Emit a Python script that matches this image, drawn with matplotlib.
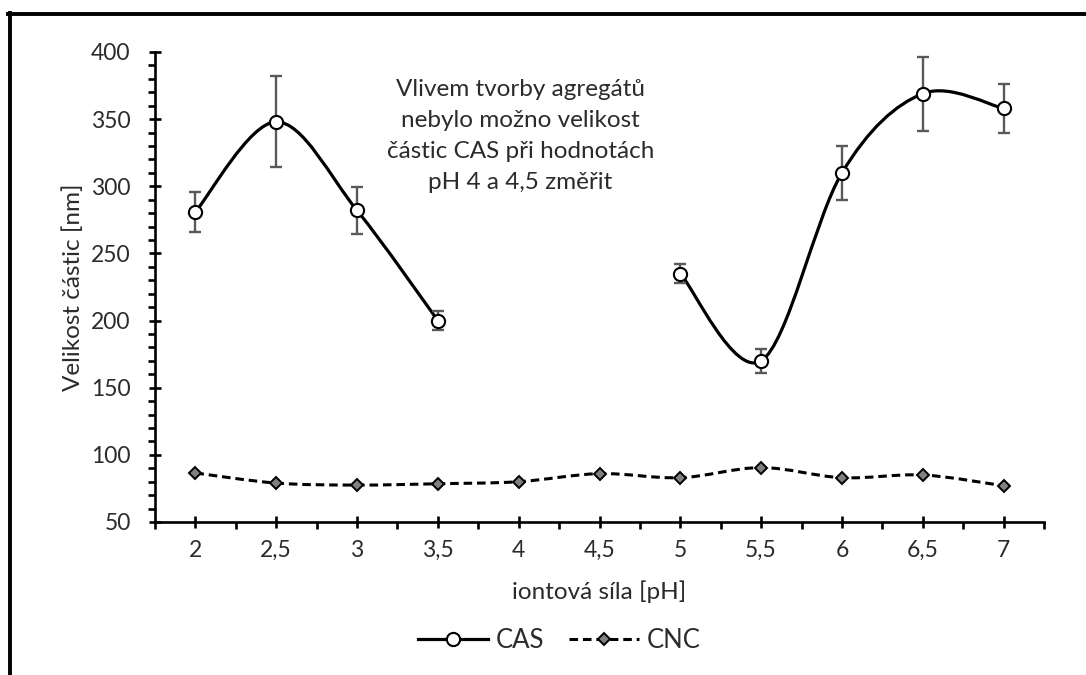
import numpy as np
import matplotlib
matplotlib.use('Agg')
import matplotlib.pyplot as plt
from matplotlib.path import Path
from matplotlib.patches import PathPatch
from matplotlib.lines import Line2D
from matplotlib.ticker import FixedLocator, MultipleLocator

# ---- data ----
categories = ['2', '2,5', '3', '3,5', '4', '4,5', '5', '5,5', '6', '6,5', '7']
cas_values = [281, 348, 282, 200, np.nan, np.nan, 235, 170, 310, 369, 358]
cas_errors = [15, 34, 17.5, 7, np.nan, np.nan, 7, 9, 20, 27.5, 18]
cnc_values = [86.5, 79, 77.5, 78.5, 80, 86, 83, 90.5, 83, 85, 77]

annotation = "Vlivem tvorby agregátů\nnebylo možno velikost\nčástic CAS při hodnotách\npH 4 a 4,5 změřit"
ylabel = "Velikost částic [nm]"
xlabel = "iontová síla [pH]"

FONT = 'Lato'
TXT = '#2b2b2b'
plt.rcParams['font.family'] = [FONT, 'DejaVu Sans']


def smooth_path(xs, ys):
    """Excel-like smoothed line: cubic Bezier through points (Catmull-Rom)."""
    n = len(xs)
    verts = [(xs[0], ys[0])]
    codes = [Path.MOVETO]
    for i in range(n - 1):
        im1 = max(i - 1, 0)
        ip2 = min(i + 2, n - 1)
        c1 = (xs[i] + (xs[i + 1] - xs[im1]) / 6.0, ys[i] + (ys[i + 1] - ys[im1]) / 6.0)
        c2 = (xs[i + 1] - (xs[ip2] - xs[i]) / 6.0, ys[i + 1] - (ys[ip2] - ys[i]) / 6.0)
        verts += [c1, c2, (xs[i + 1], ys[i + 1])]
        codes += [Path.CURVE4] * 3
    return Path(verts, codes)


def segments(vals):
    segs, cur = [], []
    for i, v in enumerate(vals):
        if np.isnan(v):
            if cur:
                segs.append(cur)
            cur = []
        else:
            cur.append(i)
    if cur:
        segs.append(cur)
    return segs


fig = plt.figure(figsize=(10.86, 6.75), dpi=100)
ax = fig.add_axes([155 / 1086, 1 - 522 / 675, (1044 - 155) / 1086, (522 - 52) / 675])

x = np.arange(len(categories))
cas = np.array(cas_values, dtype=float)
cas_err = np.array(cas_errors, dtype=float)
cnc = np.array(cnc_values, dtype=float)

# CNC dashed smoothed line
p = smooth_path(x.astype(float), cnc)
ax.add_patch(PathPatch(p, fill=False, edgecolor='black', lw=2.2,
                       linestyle=(0, (2.8, 1.6)), zorder=3))
ax.plot(x, cnc, linestyle='none', marker='D', ms=6.2, mfc='#808080',
        mec='black', mew=1.4, zorder=5)

# CAS smoothed line segments
for seg in segments(cas):
    idx = np.array(seg)
    p = smooth_path(idx.astype(float), cas[idx])
    ax.add_patch(PathPatch(p, fill=False, edgecolor='black', lw=2.3,
                           capstyle='round', zorder=3))

ax.errorbar(x, cas, yerr=cas_err, fmt='none', ecolor='#595959',
            elinewidth=1.7, capsize=4.5, capthick=1.7, zorder=4)
ax.plot(x, cas, linestyle='none', marker='o', ms=9.5, mfc='white',
        mec='black', mew=1.5, zorder=6)

# axes styling
ax.set_xlim(-0.5, len(categories) - 0.5)
ax.set_ylim(50, 400)
for s in ['top', 'right']:
    ax.spines[s].set_visible(False)
for s in ['left', 'bottom']:
    ax.spines[s].set_linewidth(1.9)
    ax.spines[s].set_color('black')

ax.xaxis.set_major_locator(FixedLocator(x))
ax.set_xticklabels(categories)
ax.xaxis.set_minor_locator(FixedLocator(np.arange(-0.5, len(categories), 1.0)))
ax.yaxis.set_major_locator(MultipleLocator(50))
ax.yaxis.set_minor_locator(MultipleLocator(10))

ax.tick_params(axis='x', which='major', direction='inout', length=8, width=1.9,
               pad=9, labelsize=16.5, labelcolor=TXT, color='black')
ax.tick_params(axis='x', which='minor', direction='out', length=5, width=1.9,
               color='black')
ax.tick_params(axis='y', which='major', direction='inout', length=9, width=1.9,
               pad=13, labelsize=16.5, labelcolor=TXT, color='black')
ax.tick_params(axis='y', which='minor', direction='out', length=5, width=1.9,
               color='black')

ax.set_ylabel(ylabel, fontsize=17.5, color=TXT, labelpad=5)
ax.set_xlabel(xlabel, fontsize=17.5, color=TXT, labelpad=14)

ax.text(0.411, 0.821, annotation, transform=ax.transAxes, ha='center', va='center',
        multialignment='center', fontsize=17.5, color=TXT, linespacing=1.58)

# legend
h1 = Line2D([], [], color='black', lw=2.3, marker='o', ms=9.5, mfc='white',
            mec='black', mew=1.5)
h2 = Line2D([], [], color='black', lw=2.2, linestyle=(0, (2.8, 1.6)), marker='D',
            ms=6.2, mfc='#808080', mec='black', mew=1.4)
leg = fig.legend([h1, h2], ['CAS', 'CNC'], loc='center', bbox_to_anchor=(0.515, 1 - 640 / 675),
                 ncol=2, frameon=False, fontsize=18.5, handlelength=2.7,
                 handletextpad=0.3, columnspacing=1.0)
for t in leg.get_texts():
    t.set_color(TXT)

# outer frame (top and left edges visible)
fig.add_artist(Line2D([8 / 1086, 1.0], [1 - 14 / 675, 1 - 14 / 675],
                      transform=fig.transFigure, color='black', lw=2.8))
fig.add_artist(Line2D([9.5 / 1086, 9.5 / 1086], [0, 1 - 12.5 / 675],
                      transform=fig.transFigure, color='black', lw=2.8))

fig.savefig('out.png', dpi=100, facecolor='white')
